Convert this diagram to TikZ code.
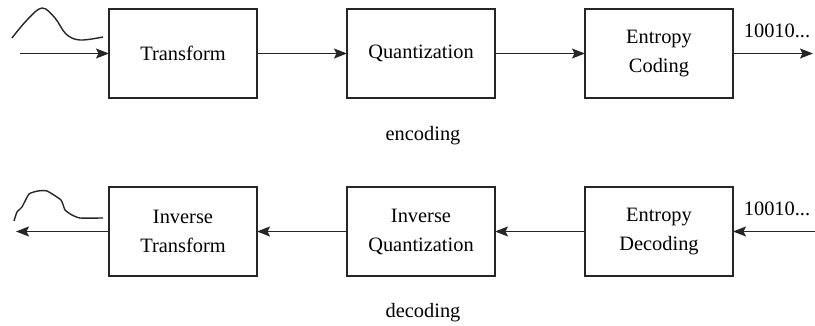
\documentclass[tikz,border=0pt]{standalone}
\usepackage{fontspec}
\setmainfont{Liberation Serif}
\usetikzlibrary{arrows.meta, positioning}

\begin{document}
\begin{tikzpicture}[x=0.5pt, y=-0.5pt, node distance=44.5pt and 45pt,
		% define styles
		blocknodestyle/.style={
			% The shape:
			rectangle,
			% The size:
			minimum width=74pt,
			minimum height=44.5pt,
			inner sep=0pt,
			outer sep=0pt,
			% The border:
			line width=0.7pt,
			draw=black!85,
			% Text
			align=center,
			font=\rmfamily\fontsize{10.2}{14.5}\selectfont
		},
		labelstyle/.style={
			inner sep=0pt,
			font=\rmfamily\fontsize{10.2}{12}\selectfont
		},
		arrow/.style={
			-{Stealth[length=6.5pt, width=5pt, inset=1.2pt]},
			% Thickness
			line width=0.7pt,
			% Color
			black!85
		},
		wavestyle/.style={
			line width=0.7pt,
			black!85
		}]
		% end of style definition
		\useasboundingbox (0,0) rectangle (815,326);

		% draw nodes (encoding)
		\node (iTransform) [blocknodestyle] at (183,53.5) {Transform};
		\node (iQuant) [blocknodestyle, right = of iTransform] {Quantization};
		\node (iEntropy) [blocknodestyle, right = of iQuant] {Entropy\\Coding};

		% draw nodes (decoding)
		\node (iInvTransform) [blocknodestyle, below = of iTransform] {Inverse\\Transform};
		\node (iInvQuant) [blocknodestyle, right = of iInvTransform] {Inverse\\Quantization};
		\node (iEntropyDec) [blocknodestyle, right = of iInvQuant] {Entropy\\Decoding};

		% free ends
		\coordinate (cIn) at (20,53.5);
		\coordinate (cBits) at (813,53.5);
		\coordinate (cBitsIn) at (815,231.5);
		\coordinate (cOut) at (16,231.5);

		% labels
		\node (lEncoding) [labelstyle] at (423,136) {encoding};
		\node (lDecoding) [labelstyle] at (423,313) {decoding};
		\node (lBitsTop) [labelstyle] at (777,31) {10010...};
		\node (lBitsBottom) [labelstyle] at (777,209) {10010...};

		% connect nodes
		\draw [arrow] (cIn) -- (iTransform);
		\draw [arrow] (iTransform) -- (iQuant);
		\draw [arrow] (iQuant) -- (iEntropy);
		\draw [arrow] (iEntropy) -- (cBits);

		\draw [arrow] (cBitsIn) -- (iEntropyDec);
		\draw [arrow] (iEntropyDec) -- (iInvQuant);
		\draw [arrow] (iInvQuant) -- (iInvTransform);
		\draw [arrow] (iInvTransform) -- (cOut);

		% signals
		\draw [wavestyle] plot[smooth, tension=0.6] coordinates {(12,38) (27,20) (42,8) (55,18) (66,34) (80,40) (103,37)};
		\draw [wavestyle] plot[smooth, tension=0.3] coordinates {(14,221) (17,212) (22,207) (29,194) (38,191) (47,191) (61,200) (65,210) (72,215) (80,218) (103,218)};
	\end{tikzpicture}
\end{document}
